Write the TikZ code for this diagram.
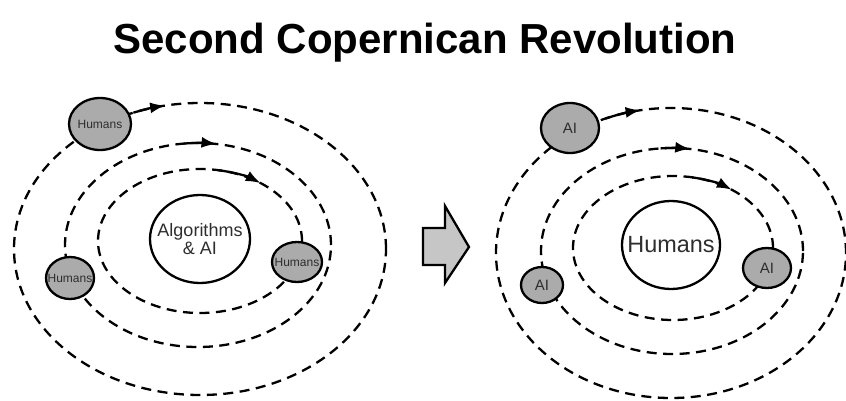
\documentclass[tikz,border=0pt]{standalone}
\usepackage{fontspec}
\setmainfont{Liberation Sans}
\usetikzlibrary{arrows.meta}
\definecolor{planetgray}{HTML}{ABABAB}
\definecolor{blockgray}{HTML}{C6C6C6}
\definecolor{labelgray}{HTML}{2E2E2E}
\tikzset{
  orbit/.style={line width=2.3pt, dash pattern=on 10pt off 6.5pt},
  orbitarrow/.style={line width=2.3pt, -{Latex[length=15pt,width=11pt]}},
  rim/.style={line width=2.3pt},
}
% filled ellipse with a label
\newcommand{\orbnode}[6]{% name, center, rx, ry, fill, text
  \fill[#5] #2 ellipse [x radius=#3pt, y radius=#4pt];
  \draw[rim] #2 ellipse [x radius=#3pt, y radius=#4pt];
  \node[text=labelgray, align=center, inner sep=0pt] (#1) at #2 {#6};
}
\begin{document}
\begin{tikzpicture}[x=1pt, y=1pt]
\useasboundingbox (0,0) rectangle (846,400);

% title
\node[anchor=base, font=\bfseries\fontsize{42}{44}\selectfont] (title) at (425,346) {Second Copernican Revolution};

% ---------------- left system ----------------
\coordinate (LO) at (200,151);
\coordinate (LM) at (198,155);
\coordinate (LI) at (200,159);
\draw[orbit] (LO) ellipse [x radius=186pt, y radius=146pt];
\draw[orbit] (LM) ellipse [x radius=133pt, y radius=102pt];
\draw[orbit] (LI) ellipse [x radius=102pt, y radius=72pt];
\draw[orbitarrow] ([shift={(111:186pt and 146pt)}]LO) arc [start angle=111, end angle=100.8, x radius=186pt, y radius=146pt];
\draw[orbitarrow] ([shift={(96:133pt and 102pt)}]LM) arc [start angle=96, end angle=82, x radius=133pt, y radius=102pt];
\draw[orbitarrow] ([shift={(80:102pt and 72pt)}]LI) arc [start angle=80, end angle=53.5, x radius=102pt, y radius=72pt];

\orbnode{algo}{(200,161)}{50}{44}{white}{\fontsize{18}{20}\selectfont Algorithms\\\fontsize{18}{20}\selectfont \& AI}
\orbnode{lh1}{(100,276)}{31}{26}{planetgray}{\fontsize{12}{12}\selectfont Humans}
\orbnode{lh2}{(70,122)}{24}{21}{planetgray}{\fontsize{12}{12}\selectfont Humans}
\orbnode{lh3}{(297,138)}{25}{20}{planetgray}{\fontsize{12}{12}\selectfont Humans}

% ---------------- transition arrow ----------------
\filldraw[fill=blockgray, line width=2.3pt, line join=miter]
  (423,172) -- (445,172) -- (445,194) -- (469,153) -- (445,117) -- (445,135) -- (423,135) -- cycle;

% ---------------- right system ----------------
\coordinate (RO) at (671,147);
\coordinate (RM) at (672,149);
\coordinate (RI) at (673,152);
\draw[orbit] (RO) ellipse [x radius=175pt, y radius=145pt];
\draw[orbit] (RM) ellipse [x radius=131pt, y radius=103pt];
\draw[orbit] (RI) ellipse [x radius=100pt, y radius=72pt];
\draw[orbitarrow] ([shift={(112:175pt and 145pt)}]RO) arc [start angle=112, end angle=100, x radius=175pt, y radius=145pt];
\draw[orbitarrow] ([shift={(95:131pt and 103pt)}]RM) arc [start angle=95, end angle=82, x radius=131pt, y radius=103pt];
\draw[orbitarrow] ([shift={(79:100pt and 72pt)}]RI) arc [start angle=79, end angle=54, x radius=100pt, y radius=72pt];

\orbnode{hum}{(671,155)}{49}{44}{white}{\fontsize{23.4}{24}\selectfont Humans}
\orbnode{ra1}{(570,272)}{29}{25}{planetgray}{\fontsize{15}{16}\selectfont AI}
\orbnode{ra2}{(542,115)}{21}{18}{planetgray}{\fontsize{15}{16}\selectfont AI}
\orbnode{ra3}{(767,132)}{24}{20}{planetgray}{\fontsize{15}{16}\selectfont AI}
\end{tikzpicture}
\end{document}
